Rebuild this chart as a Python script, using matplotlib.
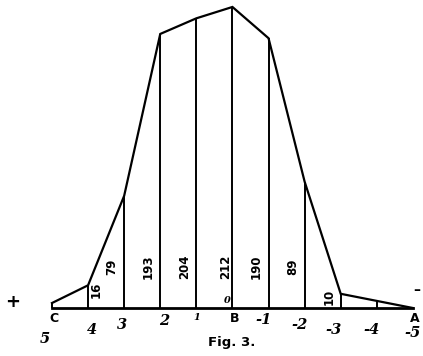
import matplotlib
matplotlib.use("Agg")
import matplotlib.pyplot as plt

# ---- data ----
tick_labels = ["5", "4", "3", "2", "1", "0", "-1", "-2", "-3", "-4", "-5"]
values = [3.5, 16, 79, 193, 204, 212, 190, 89, 10, 5, 0]
labelled = [16, 79, 193, 204, 212, 190, 89, 10]
point_letters = {"C": 0, "B": 5, "A": 10}

fig = plt.figure(figsize=(4.23, 3.56), dpi=100)
ax = fig.add_axes([0, 0, 1, 1])
ax.set_xlim(-1.44, 10.28)
ax.set_ylim(-33.8, 216.9)
ax.axis("off")

xs = list(range(len(values)))

# outline of the polygon
ax.plot(xs, values, color="black", lw=1.6, solid_joinstyle="miter")
# baseline
ax.plot([xs[0], xs[-1]], [0, 0], color="black", lw=2.0)
# ordinates
ax.vlines(xs[:-1], 0, values[:-1], color="black", lw=1.4)

# value labels, rotated, beside each ordinate
for i, v in enumerate(labelled):
    x = xs[i + 1]
    dx = 0.22 if i == 0 else (-0.2 if v == max(labelled) else -0.33)
    y = min(29, v * 0.8)
    ax.text(x + dx, y, str(v), rotation=90, ha="center", va="center",
            fontsize=8.5, fontweight="bold",
            family=["Liberation Sans Narrow", "DejaVu Sans"])

# letters under the baseline
for name, idx in point_letters.items():
    ax.text(xs[idx] + 0.05, -7.5, name, ha="center", va="center",
            fontsize=9, fontweight="bold", family=["DejaVu Sans"])

# handwritten scale numbers
hand_pos = {
    0: (-0.2, -22), 1: (0.1, -15.5), 2: (-0.05, -12), 3: (0.1, -9),
    4: (0.0, -7), 6: (-0.15, -8.5), 7: (-0.15, -12), 8: (-0.2, -15.5),
    9: (-0.15, -15.5), 10: (0.0, -17.5),
}
for idx, (dx, y) in hand_pos.items():
    lab = tick_labels[idx]
    fs = 7 if lab == "1" else 10.5
    ax.text(xs[idx] + dx, y, lab, ha="center", va="center", fontsize=fs,
            fontstyle="italic", fontweight="bold", family=["DejaVu Serif"])
# the "0" written just above the baseline at B
ax.text(xs[5] - 0.15, 5.5, tick_labels[5], ha="center", va="center",
        fontsize=7, fontstyle="italic", fontweight="bold", family=["DejaVu Serif"])

# signs at the ends
ax.text(-1.08, 4.5, "+", ha="center", va="center", fontsize=13, fontweight="bold")
ax.text(10.12, 12.5, "\u2013", ha="center", va="center", fontsize=10, fontweight="bold")

ax.text(xs[5] - 0.03, -24.5, "Fig. 3.", ha="center", va="center",
        fontsize=9.5, fontweight="bold", family=["DejaVu Sans"])

fig.savefig("out.png", dpi=100, facecolor="white")
